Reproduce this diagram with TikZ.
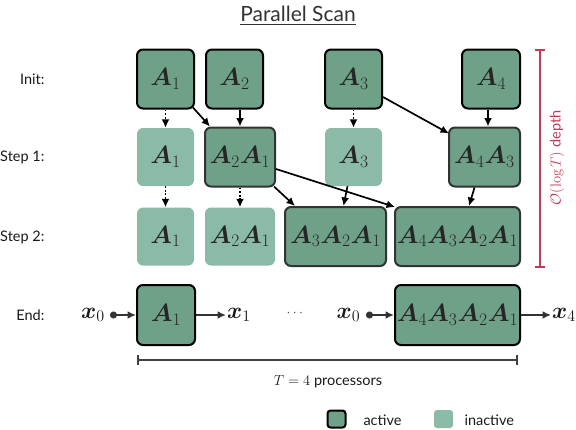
\RequirePackage{fix-cm}
\documentclass[tikz,border=0pt]{standalone}
\usepackage{amsmath,bm}
\usepackage{fontspec}
\setsansfont{Lato}
\usetikzlibrary{arrows.meta,calc}

\definecolor{actfill}{HTML}{6FA088}
\definecolor{inactfill}{HTML}{8BBAA7}
\definecolor{depthred}{HTML}{C23A55}
\definecolor{inkgray}{HTML}{333333}

\newcommand{\boxfont}{\fontsize{25}{28}\selectfont}
\newcommand{\vecfont}{\fontsize{23}{26}\selectfont}
\newcommand{\lblfont}{\sffamily\fontsize{14.5}{17}\selectfont}
\newcommand{\titlefont}{\sffamily\fontsize{21}{25}\selectfont}

\tikzset{
  act/.style={draw=black, line width=2pt, fill=actfill, rounded corners=6pt,
    inner sep=0pt, minimum height=59pt, font=\boxfont, text=black!85},
  actstep/.style={act, draw=inkgray},
  inact/.style={fill=inactfill, rounded corners=6pt, inner sep=0pt,
    minimum height=58pt, font=\boxfont, text=black!85},
  rowlbl/.style={anchor=east, font=\lblfont, text=black!90},
  arr/.style={-{Latex[length=8.5pt,width=8pt]}, line width=1.7pt, black},
  dotarr/.style={arr, dash pattern=on 1.8pt off 1.8pt},
  flow/.style={-{Latex[length=8.5pt,width=8pt]}, line width=1.7pt, inkgray},
  inflow/.style={{Circle[length=7pt]}-{Latex[length=8.5pt,width=8pt]}, line width=1.7pt, inkgray},
  vec/.style={font=\vecfont, inner sep=1pt, text=black!90},
}

\begin{document}
\begin{tikzpicture}[x=1pt, y=-1pt]
\useasboundingbox (0,0) rectangle (576,429);

% title
\node[font=\titlefont, text=inkgray] (title) at (298,16) {\underline{Parallel Scan}};

% row labels
\node[rowlbl] (linit) at (48,79) {Init:};
\node[rowlbl] (lstep1) at (48,157) {Step 1:};
\node[rowlbl] (lstep2) at (48,237) {Step 2:};
\node[rowlbl] (lend) at (48,315) {End:};

% initial matrices
\node[act, minimum width=57pt] (i1) at (165.5,79) {$\bm{A}_1$};
\node[act, minimum width=57pt] (i2) at (234.5,79) {$\bm{A}_2$};
\node[act, minimum width=57pt] (i3) at (353.5,79) {$\bm{A}_3$};
\node[act, minimum width=58pt] (i4) at (491,79) {$\bm{A}_4$};

% step 1
\node[inact, minimum width=57pt] (s1a) at (165.5,157) {$\bm{A}_1$};
\node[actstep, minimum width=70pt] (s1b) at (240,157) {$\bm{A}_2\bm{A}_1$};
\node[inact, minimum width=57pt] (s1c) at (353.5,157) {$\bm{A}_3$};
\node[actstep, minimum width=71pt] (s1d) at (484.5,157) {$\bm{A}_4\bm{A}_3$};

% step 2
\node[inact, minimum width=57pt] (s2a) at (165.5,236.5) {$\bm{A}_1$};
\node[inact, minimum width=70pt] (s2b) at (240,236.5) {$\bm{A}_2\bm{A}_1$};
\node[actstep, minimum width=101pt] (s2c) at (335.5,236.5) {$\bm{A}_3\bm{A}_2\bm{A}_1$};
\node[actstep, minimum width=125pt] (s2d) at (457.5,236.5) {$\bm{A}_4\bm{A}_3\bm{A}_2\bm{A}_1$};

% end
\node[act, minimum width=58pt, minimum height=60pt] (e1) at (166,315) {$\bm{A}_1$};
\node[act, minimum width=125pt, minimum height=60pt] (e2) at (457.5,315) {$\bm{A}_4\bm{A}_3\bm{A}_2\bm{A}_1$};

% init -> step 1
\draw[dotarr] (i1) -- (s1a);
\draw[arr] ($(i1.south east)+(-2,-2)$) -- ($(s1b.north west)+(6,0)$);
\draw[arr] (i2.south -| s1b.north) -- (s1b.north);
\draw[dotarr] (i3) -- (s1c);
\draw[arr] ($(i3.east)+(0,18)$) -- ($(s1d.north west)+(1,7)$);
\draw[arr] ([xshift=-3pt]i4.south) -- ([xshift=-3pt]i4.south |- s1d.north);

% step 1 -> step 2
\draw[dotarr] (s1a) -- (s2a);
\draw[dotarr] (s1b) -- (s2b);
\draw[arr] ($(s1b.south east)+(-2,-1)$) -- ($(s2c.north west)+(11,0)$);
\draw[arr] ($(s1c.south)+(-6,0)$) -- ($(s2c.north)+(8,0)$);
\draw[arr] ($(s1b.east)+(0,12)$) -- ($(s2d.north west)+(1,1)$);
\draw[arr] ($(s1d.south)+(-10,0)$) -- ($(s2d.north)+(11.5,0)$);

% end row
\node[vec] (x0a) at (93,315) {$\bm{x}_0$};
\coordinate (d1) at (110,315);
\draw[inflow] (d1) -- (e1.west);
\node[vec, anchor=west] (x1) at (226,315) {$\bm{x}_1$};
\draw[flow] (e1.east) -- (x1.west);
\node[font=\fontsize{14}{16}\selectfont, text=black!70] (dots) at (296,313) {$\cdots$};
\node[vec] (x0b) at (348.5,315) {$\bm{x}_0$};
\coordinate (d2) at (366,315);
\draw[inflow] (d2) -- (e2.west);
\node[vec, anchor=west] (x4) at (551,315) {$\bm{x}_4$};
\draw[flow] (e2.east) -- (x4.west);

% processor span
\coordinate (pl) at (137,360);
\coordinate (pr) at (518,360);
\draw[{Bar[width=10pt]}-{Bar[width=10pt]}, line width=1.7pt, black!75] (pl) -- (pr);
\node[font=\lblfont, text=black!90] (plbl) at (328,382) {$T=4$ processors};

% depth bar
\coordinate (dt) at (540,49);
\coordinate (db) at (540,268);
\draw[{Bar[width=10pt]}-{Bar[width=10pt]}, line width=1.7pt, depthred] (dt) -- (db);
\node[font=\lblfont, text=depthred, rotate=90] (dlbl) at (557,158) {$\mathcal{O}(\log T)$ depth};

% legend
\node[draw=black, line width=2pt, fill=actfill, rounded corners=3pt,
  minimum width=18pt, minimum height=17pt, inner sep=0pt] (legact) at (336.5,419) {};
\node[font=\lblfont, anchor=west, text=black!90] (legacttxt) at (360,420) {active};
\node[fill=inactfill, rounded corners=3pt, minimum width=19pt, minimum height=18pt,
  inner sep=0pt] (leginact) at (443.5,419) {};
\node[font=\lblfont, anchor=west, text=black!90] (leginacttxt) at (461,420) {inactive};
\end{tikzpicture}
\end{document}
